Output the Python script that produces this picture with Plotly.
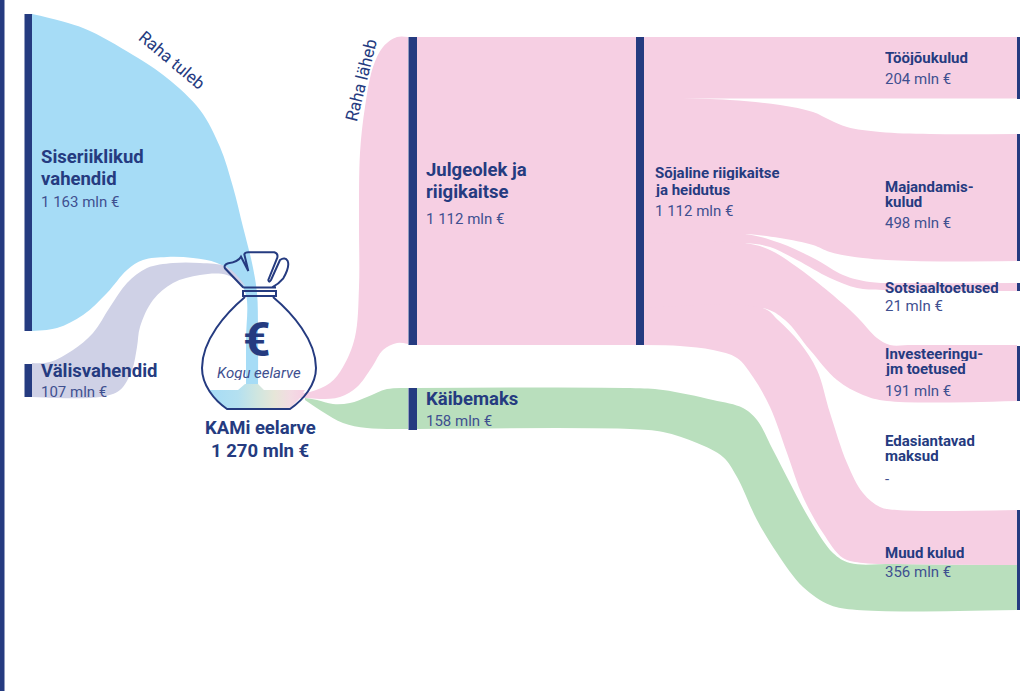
"""KAMi eelarve money-flow diagram, drawn on a pixel-sized plot area."""

import plotly.graph_objects as go

NAVY = "#253b80"
NAVY_SOFT = "#3f5090"
BLUE = "#a6dcf6"
LAVENDER = "#cfd1e6"
PINK = "#f6cfe3"
GREEN = "#b9dfbd"

# node bars
bar_left = [0, 24.5, 24.5, 408.5, 408.5, 636, 1017, 1017, 1017, 1017, 1017]
bar_right = [4.5, 32.5, 32.5, 417, 417, 644, 1020, 1020, 1020, 1020, 1020]
bar_top = [0, 14, 364, 37, 388, 37, 37, 134, 283, 346, 510]
bar_bottom = [691, 331, 397, 345, 430, 345, 99, 261, 291, 401, 610]

# flow edges
sise_top_x = [32, 83, 133, 167, 200, 220, 233, 243, 252, 257, 258, 258]
sise_top_y = [14, 28, 55, 78, 110, 147, 187, 227, 263, 293, 330, 392]
sise_bot_x = [32, 57, 83, 107, 127, 143, 167, 193, 217, 235, 246, 246, 246]
sise_bot_y = [331, 328, 315, 293, 270, 260, 257, 258, 263, 275, 295, 340, 392]

valis_top_x = [32, 50, 73, 93, 110, 127, 147, 173, 200, 227, 246]
valis_top_y = [363, 362, 350, 333, 307, 283, 268, 263, 263, 267, 287]
valis_bot_x = [32, 100, 120, 132, 137, 140, 153, 173, 200, 227, 247]
valis_bot_y = [397, 397, 390, 370, 347, 327, 300, 283, 275, 275, 288]

julg_top_x = [300, 310, 330, 343, 355, 359, 359, 360, 365, 373, 383, 397, 408]
julg_top_y = [393, 392, 383, 367, 337, 287, 220, 153, 107, 67, 47, 37, 37]
julg_bot_x = [300, 307, 320, 340, 357, 372, 383, 397, 408]
julg_bot_y = [398, 398, 399, 397, 387, 367, 350, 343, 344]

kaib_top_x = [305, 317, 333, 350, 367, 387, 408]
kaib_top_y = [398, 400, 404, 403, 397, 389, 388]
kaib_bot_x = [305, 323, 343, 367, 408]
kaib_bot_y = [400, 412, 423, 428, 429]

sojaline_x = [417, 636]
sojaline_top = [37, 37]
sojaline_bot = [345, 345]

# solid part of the pink flow before it splits
body_a_x = [644, 677]
body_a_top = [37, 37]
body_a_bot = [345, 345]
body_b_x = [677, 745]
body_b_top = [102, 102]
body_b_bot = [345, 345]
body_c_x = [745, 763]
body_c_top = [250, 250]
body_c_bot = [345, 345]

toojoud_x = [644, 1017]
toojoud_top = [37, 37]
toojoud_bot = [98.5, 98.5]

majand_top_x = [644, 677, 730, 780, 813, 830, 847, 880, 930, 1017]
majand_top_y = [98, 98, 100, 105, 112, 120, 127, 132, 134, 134]
majand_bot_x = [644, 745, 780, 813, 830, 863, 913, 1017]
majand_bot_y = [234, 234, 238, 245, 252, 258, 261, 261]

sots_top_x = [644, 745, 780, 817, 843, 870, 920, 1017]
sots_top_y = [234, 234, 243, 260, 275, 282, 283, 283]
sots_bot_x = [644, 745, 770, 797, 830, 857, 883, 1017]
sots_bot_y = [243, 243, 247, 260, 278, 288, 290, 291]

invest_top_x = [644, 745, 770, 797, 823, 850, 860, 877, 890, 913, 1017]
invest_top_y = [243, 243, 250, 267, 287, 310, 320, 338, 345, 345, 345]
invest_bot_x = [644, 763, 785, 810, 837, 863, 887, 1017]
invest_bot_y = [308, 308, 320, 350, 380, 395, 401, 401]

muud_top_x = [644, 763, 778, 800, 817, 830, 847, 863, 880, 897, 1017]
muud_top_y = [308, 308, 320, 343, 370, 413, 463, 493, 507, 510, 510]
muud_bot_x = [644, 680, 713, 737, 753, 770, 787, 803, 823, 843, 863, 897, 1017]
muud_bot_y = [345, 346, 350, 358, 377, 407, 453, 497, 533, 558, 563, 564, 565]

kmaks_top_x = [417, 630, 663, 713, 743, 757, 773, 790, 810, 833, 850, 897, 1017]
kmaks_top_y = [388, 388, 390, 400, 408, 420, 450, 483, 520, 553, 563, 564, 565]
kmaks_bot_x = [417, 630, 663, 697, 723, 737, 757, 777, 803, 830, 857, 1017]
kmaks_bot_y = [429, 429, 432, 443, 457, 477, 520, 553, 587, 605, 610, 610]

# pool at the bottom of the bag
pool_x = [209, 238, 245, 258, 264, 305, 300, 290, 227, 216]
pool_y = [390, 390, 384, 384, 390, 390, 398, 408.5, 408.5, 400]

# labels
title_texts = [
    "Siseriiklikud", "vahendid", "Välisvahendid",
    "Julgeolek ja", "riigikaitse", "Käibemaks",
    "KAMi eelarve", "1 270 mln €",
]
title_x = [39, 39, 39, 424, 424, 424, 260, 260]
title_y = [157, 179, 371, 170, 192, 399, 428, 451]

small_titles = [
    "Sõjaline riigikaitse", "ja heidutus", "Tööjõukulud", "Majandamis-", "kulud",
    "Sotsiaaltoetused", "Investeeringu-", "jm toetused", "Edasiantavad", "maksud",
    "Muud kulud",
]
small_x = [653, 653, 883, 883, 883, 883, 883, 883, 883, 883, 883]
small_y = [173, 190, 58, 187, 202, 288, 354, 369, 441, 456, 553]

amounts = [
    "1 163 mln €", "107 mln €", "1 112 mln €", "158 mln €", "1 112 mln €",
    "204 mln €", "498 mln €", "21 mln €", "191 mln €", "-", "356 mln €",
]
amount_x = [39, 39, 424, 424, 653, 883, 883, 883, 883, 883, 883]
amount_y = [202, 392, 219, 421, 211, 79, 223, 306, 391, 479, 572]

BAG_PATH = (
    "M 245 297 C 226 313 202 340 202 368 C 202 385 214 400 227 409 "
    "L 290 409 C 303 400 316 385 316 368 C 316 340 292 313 273 297 "
    "M 243 291 L 276 291 L 276 296 L 243 296 Z "
    "M 243.3 287.5 L 276 287.5 "
    "M 243.3 287.5 L 225 268.3 Q 223.3 265 228.3 263.3 Q 238.3 261.7 241 256.7 L 248.3 271 "
    "L 244.3 254.3 Q 245 252.3 248.3 252.3 L 274.3 252.3 Q 278.3 253.3 277.3 257.7 L 268.3 280 "
    "Q 269 283.3 271 280 L 280 260 Q 285 256.7 287.7 261 Q 290 266.7 283.3 278.3 "
    "Q 278.3 284.3 271.7 287.7"
)


def add_band(top_x, top_y, bot_x, bot_y, color):
    fig.add_trace(go.Scatter(
        x=top_x, y=top_y, mode="lines",
        line=dict(width=0, shape="spline", smoothing=1),
        hoverinfo="skip", showlegend=False,
    ))
    fig.add_trace(go.Scatter(
        x=bot_x, y=bot_y, mode="lines", fill="tonexty", fillcolor=color,
        line=dict(width=0, shape="spline", smoothing=1),
        hoverinfo="skip", showlegend=False,
    ))


def add_label(text, x, y, size, bold=False, color=NAVY, **kwargs):
    label = f"<b>{text}</b>" if bold else text
    kwargs.setdefault("xanchor", "left")
    fig.add_annotation(
        x=x, y=y, text=label, showarrow=False, yanchor="middle",
        font=dict(family="Roboto", size=size, color=color), **kwargs,
    )


fig = go.Figure()

add_band(sise_top_x, sise_top_y, sise_bot_x, sise_bot_y, BLUE)
add_band(valis_top_x, valis_top_y, valis_bot_x, valis_bot_y, LAVENDER)
add_band(julg_top_x, julg_top_y, julg_bot_x, julg_bot_y, PINK)
add_band(kaib_top_x, kaib_top_y, kaib_bot_x, kaib_bot_y, GREEN)
add_band(sojaline_x, sojaline_top, sojaline_x, sojaline_bot, PINK)
add_band(kmaks_top_x, kmaks_top_y, kmaks_bot_x, kmaks_bot_y, GREEN)
add_band(body_a_x, body_a_top, body_a_x, body_a_bot, PINK)
add_band(body_b_x, body_b_top, body_b_x, body_b_bot, PINK)
add_band(body_c_x, body_c_top, body_c_x, body_c_bot, PINK)
add_band(toojoud_x, toojoud_top, toojoud_x, toojoud_bot, PINK)
add_band(majand_top_x, majand_top_y, majand_bot_x, majand_bot_y, PINK)
add_band(sots_top_x, sots_top_y, sots_bot_x, sots_bot_y, PINK)
add_band(invest_top_x, invest_top_y, invest_bot_x, invest_bot_y, PINK)
add_band(muud_top_x, muud_top_y, muud_bot_x, muud_bot_y, PINK)

fig.add_trace(go.Scatter(
    x=pool_x, y=pool_y, mode="lines", fill="toself",
    line=dict(width=0),
    fillgradient=dict(
        type="horizontal",
        colorscale=[[0, BLUE], [0.3, "#b4e0f0"], [0.5, "#cfe6e0"], [0.68, "#e6e6d8"], [0.85, "#f3dbe3"], [1, PINK]],
    ),
    hoverinfo="skip", showlegend=False,
))

fig.add_trace(go.Bar(
    x=[(a + b) / 2 for a, b in zip(bar_left, bar_right)],
    y=[b - t for t, b in zip(bar_top, bar_bottom)],
    base=bar_top,
    width=[b - a for a, b in zip(bar_left, bar_right)],
    marker=dict(color=NAVY, line=dict(width=0)),
    hoverinfo="skip", showlegend=False,
))

fig.add_shape(type="path", path=BAG_PATH, xref="x", yref="y", line=dict(color=NAVY, width=2))

for text, x, y in zip(title_texts[:6], title_x, title_y):
    add_label(text, x, y, 18.5, bold=True)
for text, x, y in zip(title_texts[6:], title_x[6:], title_y[6:]):
    add_label(text, x, y, 18.5, bold=True, xanchor="center")
for text, x, y in zip(small_titles, small_x, small_y):
    add_label(text, x, y, 15, bold=True, height=14)
for text, x, y in zip(amounts, amount_x, amount_y):
    add_label(text, x, y, 15, color=NAVY_SOFT)

add_label("€", 257, 339, 48, bold=True, xanchor="center", height=40)
add_label("<i>Kogu eelarve</i>", 259, 373, 15, xanchor="center", color=NAVY_SOFT, height=14)
add_label("Raha tuleb", 172, 60, 17, xanchor="center", textangle=40)
add_label("Raha läheb", 361, 80, 17, xanchor="center", textangle=-76)

fig.update_xaxes(range=[0, 1020], visible=False, fixedrange=True)
fig.update_yaxes(range=[691, 0], visible=False, fixedrange=True)
fig.update_layout(
    width=1020, height=691,
    margin=dict(l=0, r=0, t=0, b=0),
    plot_bgcolor="white", paper_bgcolor="white",
    barmode="overlay", showlegend=False,
)

fig.write_html(
    "out.html",
    config={"displayModeBar": False},
    post_script="document.body.style.margin = '0';",
)
